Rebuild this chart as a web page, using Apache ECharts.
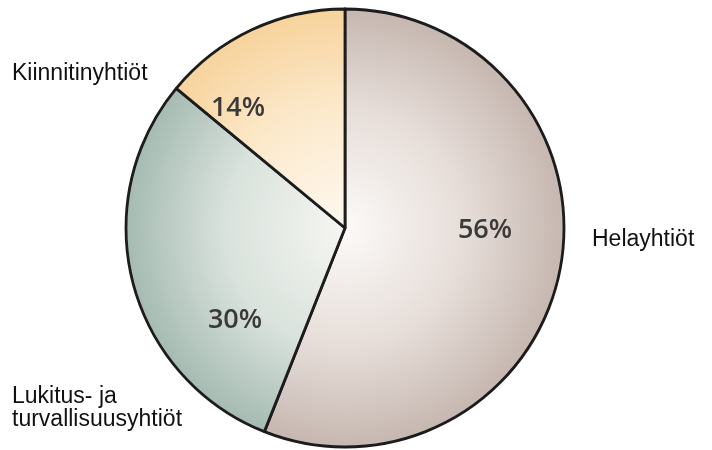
<!DOCTYPE html>
<html>
<head>
<meta charset="utf-8">
<script src="https://cdn.jsdelivr.net/npm/echarts@6/dist/echarts.min.js"></script>
<style>html,body{margin:0;padding:0;background:#fff}#c{width:712px;height:450px}</style>
</head>
<body>
<div id="c"></div>
<script>
const categories = ['Helayhtiöt', 'Lukitus- ja\nturvallisuusyhtiöt', 'Kiinnitinyhtiöt'];
const values = [56, 30, 14];

const CX = 345, CY = 228, R = 219;
function grad(stops) {
  return {type: 'radial', x: CX, y: CY, r: R, global: true,
    colorStops: stops.map(s => ({offset: s[0], color: s[1]}))};
}
const fills = [
  grad([[0, '#fcfaf8'], [0.55, '#e6ddd8'], [1, '#c6b7b0']]),
  grad([[0, '#f6f6f2'], [0.55, '#d9e2dc'], [1, '#a5bbb1']]),
  grad([[0, '#fef9f0'], [0.55, '#fce9cb'], [1, '#f7d39c']])
];
const pctPos = [[485, 230], [235, 320], [238, 108]];
const namePos = [[592, 240, 'left'], [12, 408, 'left'], [12, 74, 'left']];

const chart = echarts.init(document.getElementById('c'), null, {renderer: 'canvas'});
chart.setOption({
  backgroundColor: '#ffffff',
  animation: false,
  series: [
    {
      type: 'pie',
      center: [CX, CY],
      radius: [0, R],
      startAngle: 90,
      clockwise: true,
      silent: true,
      data: values.map((v, i) => ({value: v, name: categories[i], itemStyle: {color: fills[i]}})),
      itemStyle: {borderColor: '#1c1c1c', borderWidth: 2.8},
      label: {
        show: true, position: 'inside', formatter: '{c}%',
        fontFamily: 'Open Sans', fontWeight: 600, fontSize: 27, color: '#3a3a3a'
      },
      labelLine: {show: false},
      labelLayout: p => ({x: pctPos[p.dataIndex][0], y: pctPos[p.dataIndex][1], align: 'center', verticalAlign: 'middle'})
    },
    {
      type: 'pie',
      center: [CX, CY],
      radius: [0, R],
      startAngle: 90,
      clockwise: true,
      silent: true,
      z: 1,
      data: values.map((v, i) => ({value: v, name: categories[i]})),
      itemStyle: {color: 'rgba(0,0,0,0)', borderWidth: 0},
      label: {
        show: true, position: 'outside', formatter: '{b}',
        overflow: 'none', width: 300,
        fontFamily: 'Liberation Sans', fontSize: 23, lineHeight: 23, color: '#111111'
      },
      labelLine: {show: false},
      labelLayout: p => ({x: namePos[p.dataIndex][0], y: namePos[p.dataIndex][1], align: namePos[p.dataIndex][2], verticalAlign: 'middle'})
    }
  ]
});
</script>
</body>
</html>
